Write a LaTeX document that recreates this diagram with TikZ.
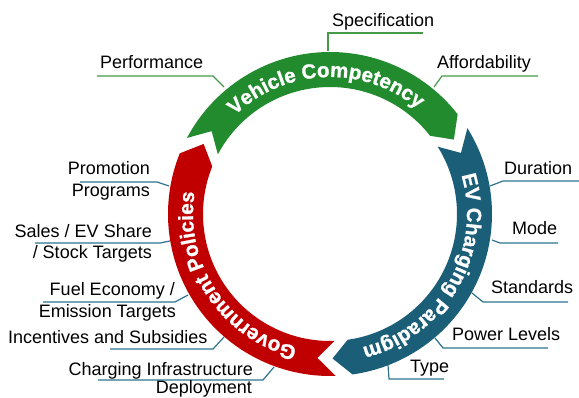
\documentclass[tikz,border=0pt]{standalone}
\usepackage{fontspec}
\setmainfont{Liberation Sans}
\newfontfamily\arcfont[FakeBold=1.2]{Liberation Sans Bold}
\usetikzlibrary{decorations.text}
\definecolor{vgreen}{RGB}{34,139,46}
\definecolor{vred}{RGB}{192,0,0}
\definecolor{vteal}{RGB}{26,94,120}
\definecolor{lgreen}{RGB}{70,155,70}
\definecolor{lblue}{RGB}{45,115,145}
\begin{document}
\begin{tikzpicture}[x=1pt,y=1pt,
  lbl/.style={font=\fontsize{18}{21}\selectfont, inner sep=0pt},
  gl/.style={draw=lgreen, line width=1.2pt},
  bl/.style={draw=lblue, line width=1.2pt},
  arctxt/.style={decorate, decoration={text along path, text align=center, text color=white,
     text={|\arcfont\fontsize{20.5}{24}\selectfont|#1}}}]
\useasboundingbox (0,0) rectangle (579,397);
\coordinate (O) at (330,183);

% leader lines (drawn under the ring)
\draw[gl] (328,346) -- (328,364) -- (423,364);
\draw[gl] (224,310) -- (213,321) -- (97,321);
\draw[gl] (434,310) -- (442,321) -- (538,321);
\draw[bl] (169,211) -- (157,215) -- (80,215);
\draw[bl] (170,156) -- (160,154) -- (35,154);
\draw[bl] (188,102) -- (175,95) -- (43,95);
\draw[bl] (224,60) -- (213,48) -- (110,48);
\draw[bl] (274,30) -- (263,17) -- (98,17);
\draw[bl] (490,211) -- (503,216) -- (579,216);
\draw[bl] (492,157) -- (500,154) -- (558,154);
\draw[bl] (472,104) -- (483,95) -- (568,95);
\draw[bl] (435,59) -- (443,49) -- (548,49);
\draw[bl] (388,32) -- (389,18) -- (444,18);

% ring segments
\fill[vgreen] ([shift={(O)}]152:162) arc[start angle=152,end angle=38,radius=162]
  -- ([shift={(O)}]31:144.5) -- ([shift={(O)}]38:127)
  arc[start angle=38,end angle=152,radius=127] -- ([shift={(O)}]145:144.5) -- cycle;
\fill[vteal] ([shift={(O)}]32:162) arc[start angle=32,end angle=-82,radius=162]
  -- ([shift={(O)}]-89:144.5) -- ([shift={(O)}]-82:127)
  arc[start angle=-82,end angle=32,radius=127] -- ([shift={(O)}]25:144.5) -- cycle;
\fill[vred] ([shift={(O)}]272:162) arc[start angle=272,end angle=158,radius=162]
  -- ([shift={(O)}]151:144.5) -- ([shift={(O)}]158:127)
  arc[start angle=158,end angle=272,radius=127] -- ([shift={(O)}]265:144.5) -- cycle;

% arc titles
\path[arctxt={Vehicle Competency}] ([shift={(O)}]149:137) arc[start angle=149,end angle=35,radius=137];
\path[arctxt={EV Charging Paradigm}] ([shift={(O)}]27:137) arc[start angle=27,end angle=-87,radius=137];
\path[arctxt={Government Policies}] ([shift={(O)}]270.5:137) arc[start angle=270.5,end angle=156.5,radius=137];

% labels
\node[lbl, anchor=base west] (spec) at (332,370) {Specification};
\node[lbl, anchor=base west] (perf) at (100,328) {Performance};
\node[lbl, anchor=base west] (aff) at (437,328) {Affordability};
\node[lbl, anchor=base east] (promA) at (150,222) {Promotion};
\node[lbl, anchor=base east] (promB) at (150,200) {Programs};
\node[lbl, anchor=base east] (salesA) at (152,160) {Sales / EV Share};
\node[lbl, anchor=base east] (salesB) at (152,139) {/ Stock Targets};
\node[lbl, anchor=base east] (fuelA) at (175,102) {Fuel Economy /};
\node[lbl, anchor=base east] (fuelB) at (176,80) {Emission Targets};
\node[lbl, anchor=base west] (inc) at (8,54) {Incentives and Subsidies};
\node[lbl, anchor=base east] (chA) at (253,22) {Charging Infrastructure};
\node[lbl, anchor=base east] (chB) at (252,4) {Deployment};
\node[lbl, anchor=base west] (dur) at (504,222) {Duration};
\node[lbl, anchor=base west] (mode) at (512,162) {Mode};
\node[lbl, anchor=base west] (std) at (491,104) {Standards};
\node[lbl, anchor=base west] (pow) at (452,57) {Power Levels};
\node[lbl, anchor=base west] (type) at (410,25) {Type};
\end{tikzpicture}
\end{document}
